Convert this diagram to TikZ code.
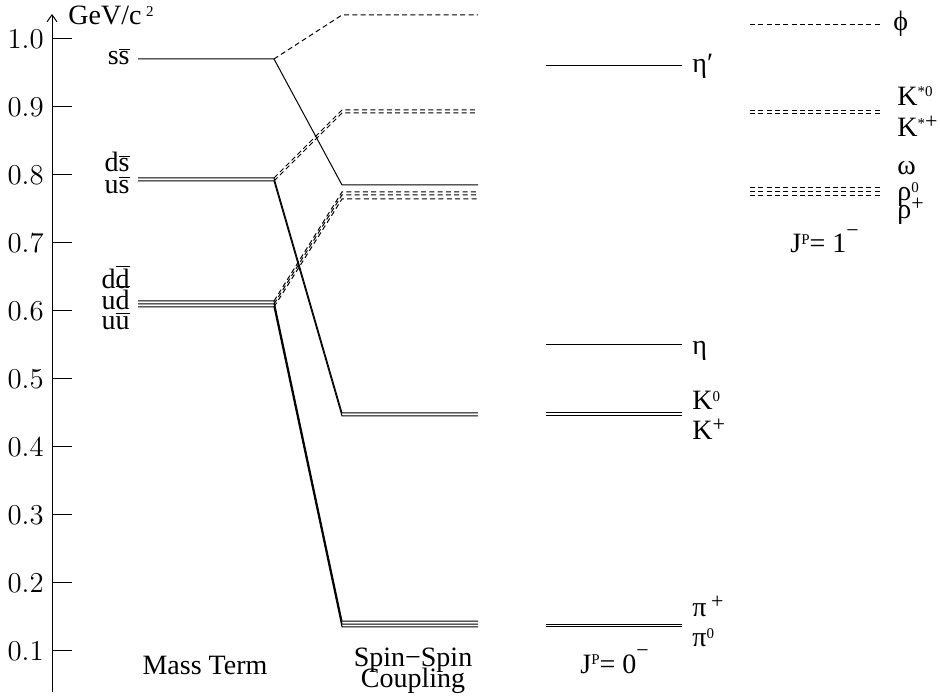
\documentclass[tikz,border=0pt]{standalone}
\usepackage{fontspec}
\setmainfont{Liberation Serif}
\usetikzlibrary{arrows.meta}
\newcommand{\qbar}[1]{$\overline{\mbox{#1}}$}
\newcommand{\supsm}[1]{\raisebox{0.3em}{\fontsize{7.5}{8}\selectfont #1}}
\newcommand{\supbig}[1]{\raisebox{0.3em}{\fontsize{11}{12}\selectfont #1}}
\newcommand{\supmin}{\raisebox{0.55em}{\fontsize{11}{12}\selectfont −}}

\begin{document}
\begin{tikzpicture}[x=0.5pt,y=340pt,font=\fontsize{14}{16}\selectfont,>={Straight Barb[length=3.5pt,width=5pt]},
  lvl/.style={line width=0.5pt},
  vec/.style={line width=0.5pt,dash pattern=on 2.5pt off 1.65pt},
  lab/.style={inner sep=0pt,anchor=base west},
  qlab/.style={inner sep=0pt,anchor=base east}]
\useasboundingbox (0,0.03088) rectangle (940,1.05735);
\draw[line width=0.5pt,->] (52,0.0397) -- (52,1.0368);
\node[lab] (unit) at (68,1.0206) {GeV/c\,\supsm{2}};
\foreach \k [evaluate=\k as \m using \k/10] in {1,...,10} {
  \draw[line width=0.5pt] (52,\m) -- (72,\m);
  \node[anchor=east,inner sep=0pt] (t\k) at (44,\m) {\pgfmathprintnumber[fixed,fixed zerofill,precision=1]{\m}};
}
\foreach \q/\v/\p in {0.9706/1.0353/0.7853, 0.7956/0.8956/0.45, 0.7912/0.8912/0.4456,
  0.6147/0.775/0.1441, 0.6103/0.7706/0.1397, 0.6059/0.7647/0.1353} {
  \draw[lvl] (138,\q) -- (274,\q) -- (342,\p) -- (478,\p);
  \draw[vec] (274,\q) -- (342,\v) -- (478,\v);
}
\foreach \p in {0.9603,0.55,0.45,0.4456,0.1397,0.1353} \draw[lvl] (546,\p) -- (682,\p);
\foreach \v in {1.0206,0.8941,0.8897,0.7809,0.775,0.7691} \draw[vec] (750,\v) -- (882,\v);
\node[qlab] (ss) at (130,0.9618) {s\qbar{s}};
\node[qlab] (ds) at (130,0.8044) {d\qbar{s}}; \node[qlab] (us) at (130,0.7735) {u\qbar{s}};
\node[qlab] (dd) at (130,0.6324) {d\qbar{d}}; \node[qlab] (ud) at (130,0.6029) {u\qbar{d}};
\node[qlab] (uu) at (130,0.5735) {u\qbar{u}};
\node[lab] (etap) at (692,0.95) {η′};
\node[lab] (eta) at (692,0.5353) {η};
\node[lab] (K0) at (692,0.4544) {K\supsm{0}}; \node[lab] (Kp) at (692,0.4103) {K\supbig{+}};
\node[lab] (pip) at (692,0.15) {π\,\supbig{+}}; \node[lab] (pi0) at (692,0.1059) {π\supsm{0}};
\node[lab] (phi) at (893,1.0118) {ϕ};
\node[lab] (Ks0) at (897,0.9029) {K\supsm{*0}}; \node[lab] (Ksp) at (897,0.8559) {K\supsm{*}\supbig{+}};
\node[lab] (omega) at (897,0.8) {ω};
\node[lab] (rho0) at (897,0.7618) {ρ\supsm{0}}; \node[lab] (rhop) at (897,0.7353) {ρ\supbig{+}};
\node[lab] (jp1) at (790,0.6853) {J\supsm{P}= 1\supmin};
\node[lab] (jp0) at (580,0.0676) {J\supsm{P}= 0\supmin};
\node[anchor=base,inner sep=0pt] (mass) at (205,0.0647) {Mass Term};
\node[anchor=base,inner sep=0pt] (spin) at (413,0.0775) {Spin−Spin};
\node[anchor=base,inner sep=0pt] (coupling) at (413,0.046) {Coupling};
\end{tikzpicture}
\end{document}
